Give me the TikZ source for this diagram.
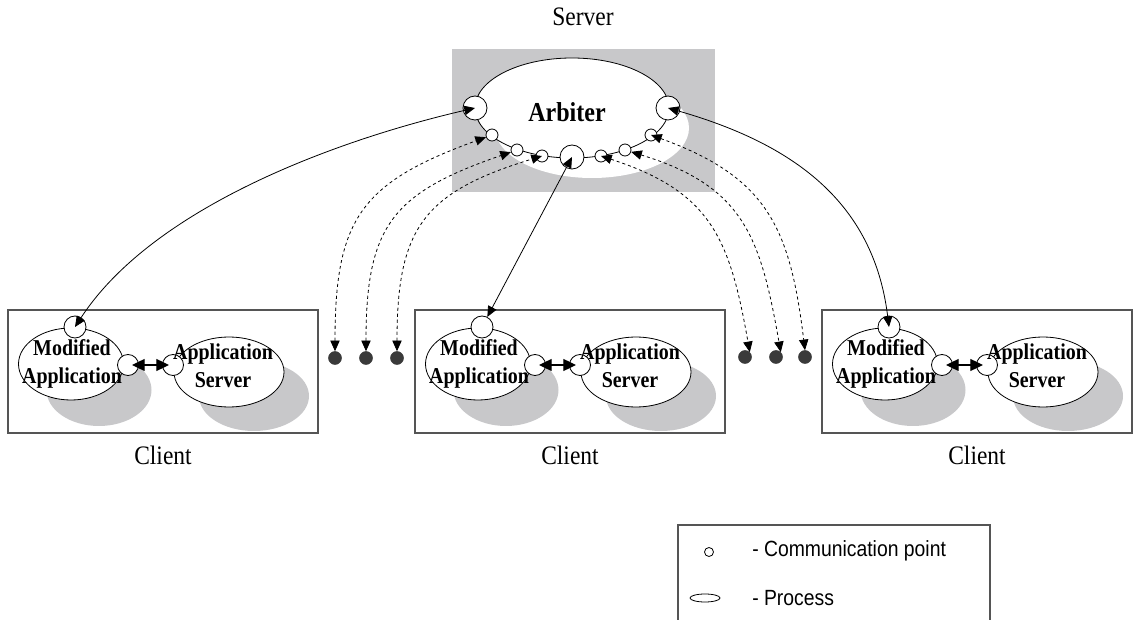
\documentclass[tikz,border=0pt]{standalone}
\usepackage{fontspec}
\setmainfont{Liberation Serif}[FakeStretch=0.88]
\newfontfamily\legendfont{Liberation Sans}[FakeStretch=0.88]
\usetikzlibrary{arrows.meta,shapes.geometric}

\definecolor{shadegray}{RGB}{200,200,202}
\definecolor{frame}{RGB}{85,85,85}
\definecolor{dotfill}{RGB}{58,58,58}

\tikzset{
  caption/.style={font=\fontsize{20}{24}\selectfont, inner sep=0pt},
  proctext/.style={font=\bfseries\fontsize{17}{21}\selectfont, align=center, inner sep=0pt},
  cpoint/.style={circle, draw=black, fill=white, line width=0.6pt, inner sep=0pt, minimum size=#1},
  cpoint/.default=9pt,
  blob/.style={circle, draw=dotfill, fill=dotfill, inner sep=0pt, minimum size=9.75pt},
  procell/.style={ellipse, draw=black, fill=white, line width=0.6pt, inner sep=0pt},
  shadowell/.style={ellipse, fill=shadegray, inner sep=0pt},
  ma/.style={minimum width=78.75pt, minimum height=54pt},
  as/.style={minimum width=82.5pt, minimum height=52.5pt},
  link/.style={line width=0.6pt, >={Triangle[length=8pt,width=7pt]}, <->},
  dlink/.style={link, dash pattern=on 2.3pt off 2.2pt},
  pairlink/.style={line width=0.9pt, >={Triangle[length=9.5pt,width=9pt]}, <->, shorten <=3pt, shorten >=3pt},
  clientbox/.style={draw=frame, line width=0.9pt},
}

\begin{document}
\begin{tikzpicture}[x=0.75pt,y=0.75pt]
\useasboundingbox (0,0) rectangle (1133,-620);

% ---------- server ----------
\node[caption] (srv) at (583,-17) {Server};
\fill[shadegray] (452,-49) rectangle (715,-192);
\fill[white] (592,-128) ellipse [x radius=97, y radius=50];
\draw[line width=0.6pt, fill=white] (572,-108) ellipse [x radius=97, y radius=50];
\node[font=\bfseries\fontsize{20.5}{24}\selectfont, inner sep=0pt] (arb) at (567,-112) {Arbiter};

% communication points of the arbiter
\node[cpoint=18pt] (ca1) at (475,-108) {};
\node[cpoint]      (ca2) at (492,-135) {};
\node[cpoint]      (ca3) at (517,-150) {};
\node[cpoint]      (ca4) at (542,-156) {};
\node[cpoint=18pt] (ca5) at (572,-157) {};
\node[cpoint]      (ca6) at (601,-156) {};
\node[cpoint]      (ca7) at (625,-150) {};
\node[cpoint]      (ca8) at (651,-135) {};
\node[cpoint=18pt] (ca9) at (668,-108) {};

% ---------- clients ----------
\foreach \L/\i in {8/1,415/2,822/3} {
  \draw[clientbox] (\L,-310) rectangle (\L+310,-433);
  \node[caption] (cl\i) at (\L+155,-455) {Client};
  % shadows
  \node[shadowell, ma] at (\L+63+28,-364-26) {};
  \node[shadowell, as] at (\L+221+25,-372-24) {};
  % processes
  \node[procell, ma] (ma\i) at (\L+63,-364) {};
  \node[procell, as] (as\i) at (\L+221,-372) {};
  % communication points
  \node[cpoint=16.5pt]  (ct\i) at (\L+67,-327) {};
  \node[cpoint=15.75pt] (mr\i) at (\L+120,-365) {};
  \node[cpoint=15.75pt] (al\i) at (\L+165,-365) {};
  \draw[pairlink] (mr\i.center) -- (al\i.center);
  \node[proctext] at (\L+64,-364) {Modified\\Application};
  \node[proctext] at (\L+215,-366) {Application\\Server};
}

% remote end points between the clients
\node[blob] (d1) at (335,-358) {};
\node[blob] (d2) at (366,-358) {};
\node[blob] (d3) at (397,-358) {};
\node[blob] (e1) at (745,-357) {};
\node[blob] (e2) at (776,-357) {};
\node[blob] (e3) at (805,-357) {};

% ---------- connections ----------
\draw[link] (ca1.center) to[out=193, in=57, looseness=0.8] (ct1.center);
\draw[link] (ca5.center) -- (ct2);
\draw[link] (ca9.center) to[out=-16, in=97, looseness=1.05] (ct3.center);

\draw[dlink] (d1.north) to[out=90, in=200, looseness=1.3] (ca2);
\draw[dlink] (d2.north) to[out=90, in=199, looseness=1.3] (ca3);
\draw[dlink] (d3.north) to[out=90, in=197, looseness=1.3] (ca4.center);

\draw[dlink] (ca6.center) to[out=-18, in=100, looseness=1.2] (e1.north east);
\draw[dlink] (ca7) to[out=-17, in=100, looseness=1.2] (e2.north east);
\draw[dlink] (ca8.center) to[out=-20, in=97, looseness=1.2] (e3.north);

% ---------- legend ----------
\draw[frame, line width=0.9pt] (678,-620) -- (678,-525) -- (990,-525) -- (990,-620);
\node[cpoint=6.75pt] (lgc) at (709,-552) {};
\draw[line width=0.6pt] (705,-598) ellipse [x radius=15, y radius=4];
\node[anchor=west, inner sep=0pt, font=\legendfont\fontsize{16.5}{20}\selectfont] at (752,-551) {- Communication point};
\node[anchor=west, inner sep=0pt, font=\legendfont\fontsize{16.5}{20}\selectfont] at (752,-598) {- Process};
\end{tikzpicture}
\end{document}
